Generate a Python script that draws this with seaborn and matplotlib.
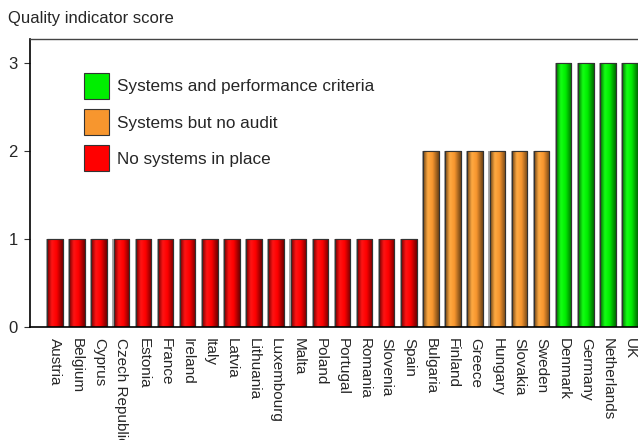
import numpy as np
import pandas as pd
import matplotlib
matplotlib.use("Agg")
import matplotlib.pyplot as plt
import matplotlib.colors as mcolors
from matplotlib.patches import Rectangle, Patch
import seaborn as sns

countries = ["Austria", "Belgium", "Cyprus", "Czech Republic", "Estonia", "France",
             "Ireland", "Italy", "Latvia", "Lithuania", "Luxembourg", "Malta", "Poland",
             "Portugal", "Romania", "Slovenia", "Spain", "Bulgaria", "Finland", "Greece",
             "Hungary", "Slovakia", "Sweden", "Denmark", "Germany", "Netherlands", "UK"]
scores = [1] * 17 + [2] * 6 + [3] * 4
categories = ["No systems in place"] * 17 + ["Systems but no audit"] * 6 + \
             ["Systems and performance criteria"] * 4
legend_order = ["Systems and performance criteria", "Systems but no audit", "No systems in place"]
palette = {"No systems in place": "#ff0000",
           "Systems but no audit": "#f7962e",
           "Systems and performance criteria": "#00ee00"}
yticks = [0, 1, 2, 3]

sns.set_style("white")
plt.rcParams["font.family"] = ["Liberation Sans", "DejaVu Sans"]

df = pd.DataFrame({"country": countries, "score": scores, "cat": categories})

fig = plt.figure(figsize=(6.38, 4.4), dpi=100)
ax = fig.add_axes([30 / 638, 1 - 327 / 440, 1 - 30 / 638, (327 - 39) / 440])

sns.barplot(data=df, x="country", y="score", hue="cat", palette=palette,
            dodge=False, width=0.7, ax=ax, legend=False, saturation=1,
            edgecolor="#333333", linewidth=0.8)


def shade_cmap(base):
    r, g, b = mcolors.to_rgb(base)
    dark = (r * 0.45, g * 0.45, b * 0.45)
    light = tuple(min(1, c + 0.08) for c in (r, g, b))
    return mcolors.LinearSegmentedColormap.from_list(
        "s", [(0, dark), (0.3, light), (0.6, (r, g, b)), (1, dark)])


grad = np.linspace(0, 1, 64).reshape(1, -1)
for patch in list(ax.patches):
    h = patch.get_height()
    if h <= 0:
        continue
    x0, w = patch.get_x(), patch.get_width()
    cmap = shade_cmap(patch.get_facecolor())
    im = ax.imshow(grad, cmap=cmap, aspect="auto", extent=[x0, x0 + w, 0, h],
                   zorder=patch.get_zorder() + 0.1, interpolation="bicubic")
    im.set_clip_path(patch)
    ax.add_patch(Rectangle((x0 - 0.05, 0), 0.05, h, facecolor="#aaaaaa",
                           edgecolor="none", zorder=patch.get_zorder() - 0.1))
    ax.add_patch(Rectangle((x0, 0), w, h, facecolor="none", edgecolor="#333333",
                           linewidth=0.8, zorder=patch.get_zorder() + 0.2))

ax.set_xlim(-1.13, 26.36)
ax.set_ylim(0, 3.27)
ax.set_yticks(yticks)
ax.set_yticklabels([str(t) for t in yticks], fontsize=12)
ax.set_xlabel("")
ax.set_ylabel("")
ax.set_xticks(range(len(countries)))
ax.set_xticklabels(countries, rotation=-90, fontsize=11, va="top", ha="center")
ax.tick_params(axis="x", length=0, pad=8)
ax.tick_params(axis="y", left=True, length=4, width=0.8, color="#333333", pad=5, direction="out")
for s in ["left", "bottom"]:
    ax.spines[s].set_color("#000000")
    ax.spines[s].set_linewidth(1.2)
ax.spines["top"].set_color("#444444")
ax.spines["top"].set_linewidth(1.0)
ax.spines["right"].set_visible(False)

handles = [Patch(facecolor=palette[c], edgecolor="#333333", linewidth=0.8) for c in legend_order]
ax.legend(handles, legend_order, loc="upper left", bbox_to_anchor=((84 - 30) / 608, (327 - 73) / 288),
          frameon=False, fontsize=12.3, handlelength=1.46, handleheight=1.96,
          labelspacing=0.6, handletextpad=0.47, borderaxespad=0, borderpad=0)

fig.text(8 / 638, 1 - 18 / 440, "Quality indicator score", fontsize=12, va="center", ha="left")

fig.savefig("out.png", dpi=100)
